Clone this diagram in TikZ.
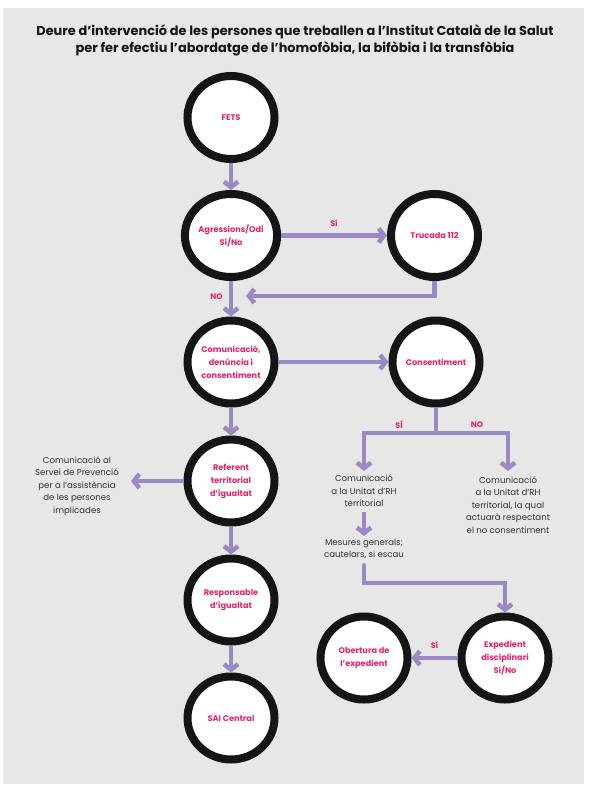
\documentclass[tikz,border=0pt]{standalone}
\usepackage{fontspec}
\setmainfont{Poppins}
\usetikzlibrary{arrows.meta,shapes.geometric,calc}
\definecolor{bggray}{HTML}{E7E7E7}
\definecolor{pinkc}{HTML}{E6226E}
\definecolor{purp}{HTML}{9A8AC4}
\definecolor{ringc}{HTML}{151515}
\definecolor{txtc}{HTML}{333333}
\tikzset{
  ring/.style={ellipse, draw=ringc, line width=8pt, fill=white, minimum width=87pt, minimum height=83pt, inner sep=0pt, align=center, text=pinkc, font=\bfseries\fontsize{8.2}{13}\selectfont},
  arr/.style={draw=purp, line width=4.5pt, -{Straight Barb[length=5.5pt,width=14pt]}},
  plainline/.style={draw=purp, line width=4.5pt},
  body/.style={align=center, text=txtc, font=\fontsize{8.6}{12.6}\selectfont, inner sep=0pt},
  lbl/.style={text=pinkc, font=\bfseries\fontsize{8}{9}\selectfont, inner sep=0pt},
}
\begin{document}
\begin{tikzpicture}[x=1pt,y=-1pt]
\useasboundingbox (0,0) rectangle (590,790);
\fill[bggray] (3,8) rectangle (584,784);
\node[font=\bfseries\fontsize{12.9}{17}\selectfont, align=center, text=ringc] (title) at (295,40) {Deure d’intervenció de les persones que treballen a l’Institut Català de la Salut\\per fer efectiu l’abordatge de l’homofòbia, la bifòbia i la transfòbia};

\node[ring] (fets) at (231,117.5) {FETS};
\node[ring] (agr) at (231,235.5) {Agressions/Odi\\Sí/No};
\node[ring] (truc) at (434.5,235.5) {Trucada 112};
\node[ring] (com) at (231,362) {Comunicació,\\denúncia i\\consentiment};
\node[ring] (cons) at (436,362) {Consentiment};
\node[ring] (ref) at (231,481) {Referent\\territorial\\d’igualtat};
\node[ring] (resp) at (231,600) {Responsable\\d’igualtat};
\node[ring] (sai) at (231,718) {SAI Central};
\node[ring] (obert) at (364,658) {Obertura de\\l’expedient};
\node[ring] (exped) at (505,658) {Expedient\\disciplinari\\Sí/No};

\node[body] (servei) at (77,486) {Comunicació al\\Servei de Prevenció\\per a l’assistència\\de les persones\\implicades};
\node[body] (unitat) at (364,491) {Comunicació\\a la Unitat d’RH\\territorial};
\node[body] (mesures) at (364,549) {Mesures generals;\\cautelars, si escau};
\node[body] (nocons) at (508,505) {Comunicació\\a  la Unitat d’RH\\territorial, la qual\\actuarà respectant\\el no consentiment};

\coordinate (split) at (436,433);
\coordinate (splitL) at (364,433);
\coordinate (splitR) at (508,433);
\coordinate (back) at (434.5,296);
\coordinate (mid1) at (364,583);
\coordinate (mid2) at (505,583);
\coordinate (servtip) at (131,481);

\draw[arr] (fets.south) -- (agr.north);
\draw[arr] (agr.east) -- node[lbl, above=7pt] {Sí} (truc.west);
\draw[arr] (truc.south) -- (back) -- (246,296);
\draw[arr] (agr.south) -- node[lbl, left=6pt, pos=0.45] {NO} (com.north);
\draw[arr] (com.east) -- (cons.west);
\draw[plainline] (cons.south) -- (split);
\draw[plainline, line cap=rect] (splitL) -- (splitR);
\draw[arr] (splitL) -- (364,471);
\draw[arr] (splitR) -- (508,471);
\node[lbl] (si2) at (399,425) {SÍ};
\node[lbl] (no2) at (477,425) {NO};
\draw[arr] (364,512) -- (364,536);
\draw[arr, line cap=round] ($(mesures.south)+(0,6)$) -- (mid1) -- (mid2) -- (exped.north);
\draw[arr] (exped.west) -- node[lbl, above=7pt] {Sí} (obert.east);
\draw[arr] (com.south) -- (ref.north);
\draw[arr] (ref.west) -- (servtip);
\draw[arr] (ref.south) -- (resp.north);
\draw[arr] (resp.south) -- (sai.north);
\end{tikzpicture}
\end{document}
